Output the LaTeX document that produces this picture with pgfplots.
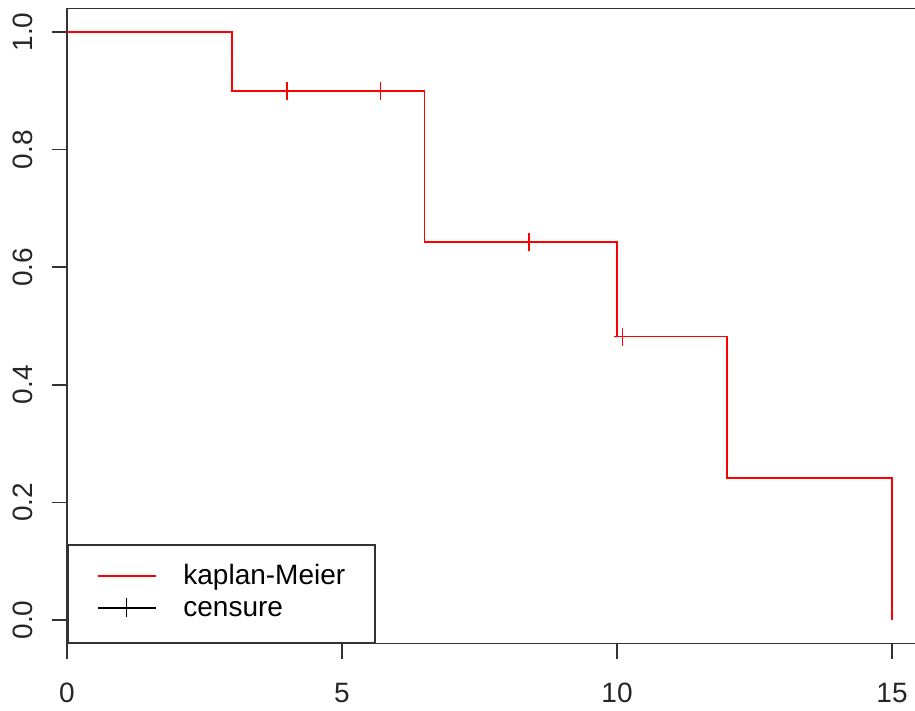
\documentclass[border=0pt]{standalone}
\usepackage{pgfplots}
\pgfplotsset{compat=1.18}
\usepackage{fontspec}
\setmainfont{Liberation Sans}
\begin{document}
\begin{tikzpicture}
\begin{axis}[
  scale only axis, width=426.25pt, height=317.52pt,
  xmin=0, xmax=15.5, ymin=-0.04, ymax=1.04,
  xtick={0,5,10,15}, ytick={0,0.2,0.4,0.6,0.8,1.0},
  tick pos=left, tick align=outside, major tick length=7.5pt,
  tick style={black!80, line width=0.8pt},
  axis line style={black!80, line width=0.8pt},
  /pgf/number format/assume math mode=true,
  ticklabel style={font=\fontsize{14}{16}\selectfont, text=black!85},
  xticklabel style={anchor=center, yshift=-17.25pt},
  yticklabel style={/pgf/number format/.cd, fixed, fixed zerofill, precision=1, /tikz/.cd, rotate=90, anchor=center, yshift=14.5pt},
  legend cell align=left,
  legend style={at={(rel axis cs:0,0)}, anchor=south west, draw=black!80, line width=0.8pt, fill=white,
    inner xsep=14.5pt, inner ysep=10pt, row sep=3pt, column sep=13.5pt,
    font=\fontsize{14}{16}\selectfont,
    nodes={inner sep=0pt, text height=10pt, text depth=3pt}},
]
\coordinate (SW) at (rel axis cs:0,0);
\addplot[red, line width=0.85pt, legend image code/.code={\draw[red, line width=0.8pt] (0pt,1pt) -- (29pt,1pt);}] coordinates {
  (0,1) (3,1) (3,0.9) (6.5,0.9) (6.5,0.642857) (10,0.642857) (10,0.482143)
  (12,0.482143) (12,0.241071) (15,0.241071) (15,0)
};
\addplot[only marks, mark=+, red, mark size=4.5pt, line width=0.8pt, forget plot] coordinates {
  (4,0.9) (5.7,0.9) (8.4,0.642857) (10.1,0.482143)
};
\addlegendimage{black, line width=0.8pt, legend image code/.code={\draw[black, line width=0.8pt] (0pt,1pt)--(29pt,1pt); \draw[black, line width=0.8pt] (14.5pt,-3.75pt)--(14.5pt,5.75pt);}}
\legend{kaplan-Meier\hspace*{0.5pt}, censure}
\end{axis}
\pgfresetboundingbox
\path ([shift={(-33.5pt,-33.25pt)}]SW) rectangle ([shift={(424pt,321.77pt)}]SW);
\end{tikzpicture}
\end{document}
